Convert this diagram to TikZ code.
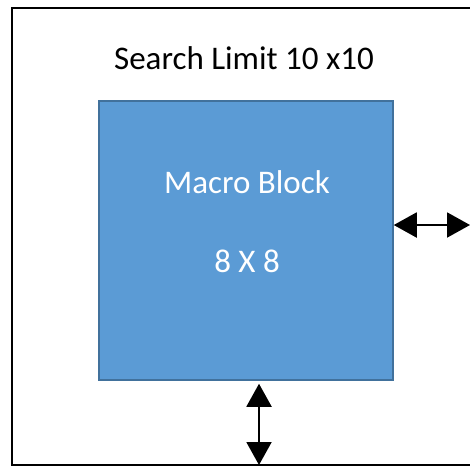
\documentclass[tikz,border=0pt]{standalone}
\usepackage{fontspec}
\setmainfont{Carlito}
\usetikzlibrary{arrows.meta,positioning}
\definecolor{blockfill}{HTML}{5B9BD5}
\definecolor{blockline}{HTML}{41719C}
\tikzset{
  blockbox/.style={rectangle,draw=blockline,line width=1.5pt,fill=blockfill,minimum width=294pt,minimum height=279pt,inner sep=0pt},
  label text/.style={font=\fontsize{33}{38}\selectfont,inner sep=0pt,anchor=base},
  dblarrow/.style={{Triangle[length=23pt,width=25pt]}-{Triangle[length=23pt,width=25pt]},line width=2pt}
}
\begin{document}
\begin{tikzpicture}[x=1pt,y=-1pt]
\useasboundingbox (0,0) rectangle (470,467);
\clip (0,0) rectangle (470,467);
\draw[line width=2pt] (12,8) rectangle (500,465);
\node[blockbox] (block) at (246,240.5) {};
\node[label text] (limit) at (244,69) {Search Limit 10 x10};
\node[label text,text=white] (name) at (247,193) {Macro Block};
\node[label text,text=white] (size) at (247,272) {8 X 8};
\coordinate (rtip) at (470,225);
\coordinate (btip) at (259,465);
\draw[dblarrow] (block.east |- rtip) -- (rtip);
\draw[dblarrow] ([yshift=-3pt]block.south -| btip) -- (btip);
\end{tikzpicture}
\end{document}
